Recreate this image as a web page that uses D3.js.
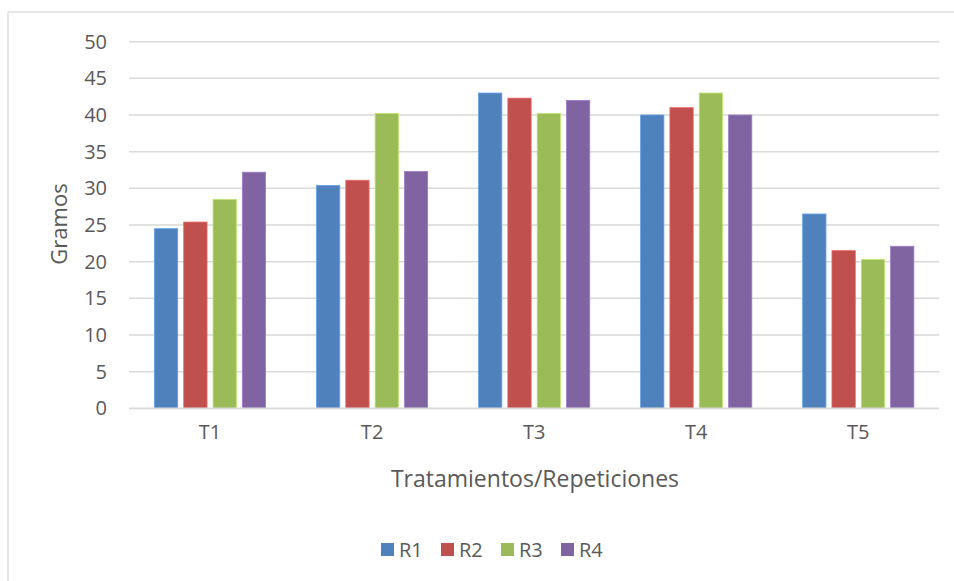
<!DOCTYPE html>
<html>
<head>
<meta charset="utf-8">
<script src="https://cdn.jsdelivr.net/npm/d3@7"></script>
<style>
  html, body { margin: 0; padding: 0; background: #fff; }
  svg { display: block; font-family: "Open Sans", "Liberation Sans", sans-serif; }
</style>
</head>
<body>
<svg id="chart" width="954" height="581"></svg>
<script>
const categories = ["T1", "T2", "T3", "T4", "T5"];
const seriesNames = ["R1", "R2", "R3", "R4"];
const R1 = [24.5, 30.4, 43.0, 40.0, 26.5];
const R2 = [25.4, 31.1, 42.3, 41.0, 21.5];
const R3 = [28.5, 40.2, 40.2, 43.0, 20.3];
const R4 = [32.2, 32.3, 42.0, 40.0, 22.1];
const yTicks = [0, 5, 10, 15, 20, 25, 30, 35, 40, 45, 50];
const colors = ["#4F81BD", "#C0504D", "#9BBB59", "#8064A2"];
const seriesValues = [R1, R2, R3, R4];

const svg = d3.select("#chart");
const textColor = "#595959";

// outer border
svg.append("rect").attr("x", 8).attr("y", 12).attr("width", 960).attr("height", 600)
  .attr("fill", "none").attr("stroke", "#d9d9d9").attr("stroke-width", 1.3);

const plot = { left: 129, right: 939.3, top: 41.7, bottom: 408.3 };

const x0 = d3.scaleBand().domain(categories).range([plot.left, plot.right]).padding(0);
const x1 = d3.scaleBand().domain(seriesNames).range([0, x0.bandwidth()])
  .paddingInner(0.205).paddingOuter(0.868);
const y = d3.scaleLinear().domain([0, 50]).range([plot.bottom, plot.top]);

// gridlines
svg.append("g").selectAll("line").data(yTicks.filter(d => d > 0)).join("line")
  .attr("x1", plot.left).attr("x2", plot.right)
  .attr("y1", d => y(d)).attr("y2", d => y(d))
  .attr("stroke", "#d9d9d9").attr("stroke-width", 1.5);

// y tick labels
const yAxis = d3.axisLeft(y).tickValues(yTicks).tickSize(0).tickPadding(22);
const gy = svg.append("g").attr("transform", `translate(${plot.left},0)`).call(yAxis);
gy.select(".domain").remove();
gy.selectAll("text").attr("fill", textColor).style("font-size", "20px")
  .style("font-family", "'Open Sans', sans-serif");

// bars
const groups = svg.append("g").selectAll("g").data(categories).join("g")
  .attr("transform", d => `translate(${x0(d)},0)`);
groups.selectAll("rect").data((c, i) => seriesNames.map((s, j) => ({ s, j, v: seriesValues[j][i] })))
  .join("rect")
  .attr("x", d => x1(d.s)).attr("width", x1.bandwidth())
  .attr("y", d => y(d.v)).attr("height", d => y(0) - y(d.v))
  .attr("fill", d => colors[d.j])
  .attr("stroke", d => d3.color(colors[d.j]).brighter(0.6))
  .attr("stroke-width", 0.8);

// x axis baseline
svg.append("line").attr("x1", plot.left).attr("x2", plot.right)
  .attr("y1", y(0)).attr("y2", y(0)).attr("stroke", "#d9d9d9").attr("stroke-width", 1.8);

// x axis labels
const xAxis = d3.axisBottom(x0).tickSize(0).tickPadding(17);
const gx = svg.append("g").attr("transform", `translate(0,${plot.bottom})`).call(xAxis);
gx.select(".domain").remove();
gx.selectAll("text").attr("fill", textColor).style("font-size", "20px")
  .style("font-family", "'Open Sans', sans-serif");

// axis titles
svg.append("text").attr("x", 535).attr("y", 487).attr("text-anchor", "middle")
  .attr("fill", textColor).style("font-size", "23px").text("Tratamientos/Repeticiones");
svg.append("text").attr("transform", "translate(67,224) rotate(-90)").attr("text-anchor", "middle")
  .attr("fill", textColor).style("font-size", "22px").text("Gramos");

// legend
const legendX = [381, 441, 501, 561];
const leg = svg.append("g").selectAll("g").data(seriesNames).join("g")
  .attr("transform", (d, i) => `translate(${legendX[i]},543)`);
leg.append("rect").attr("width", 13).attr("height", 13).attr("fill", (d, i) => colors[i]);
leg.append("text").attr("x", 18).attr("y", 13.5).attr("fill", textColor)
  .style("font-size", "20px").text(d => d);
</script>
</body>
</html>
